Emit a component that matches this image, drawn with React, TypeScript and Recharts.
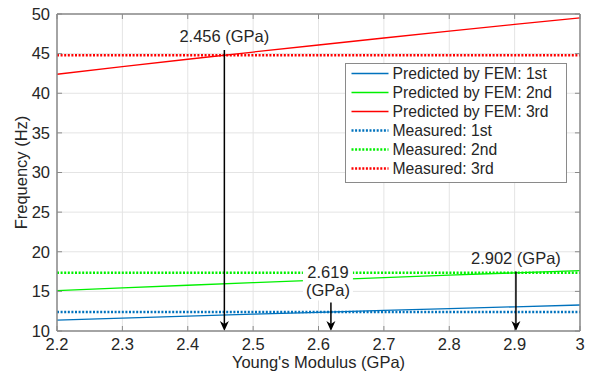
import { LineChart, Line, XAxis, YAxis, CartesianGrid, ReferenceLine, Legend } from 'recharts'

// Young's modulus samples (GPa) and the FEM natural frequencies (Hz) at each one
const modulus = [2.2, 2.3, 2.4, 2.5, 2.6, 2.7, 2.8, 2.9, 3]
const femFirst = [11.37, 11.63, 11.88, 12.12, 12.36, 12.6, 12.83, 13.05, 13.28]
const femSecond = [15.1, 15.44, 15.77, 16.1, 16.42, 16.73, 17.04, 17.34, 17.63]
const femThird = [42.4, 43.35, 44.29, 45.2, 46.09, 46.97, 47.83, 48.68, 49.51]

// measured frequencies (Hz)
const measuredFirst = 12.4
const measuredSecond = 17.35
const measuredThird = 44.8

const xTicks = [2.2, 2.3, 2.4, 2.5, 2.6, 2.7, 2.8, 2.9, 3]
const yTicks = [10, 15, 20, 25, 30, 35, 40, 45, 50]

// where each measured frequency meets its FEM curve
const crossingModulus = [2.456, 2.619, 2.902]
const crossingStart = [45.45, 13.6, 17.5]
const crossingText = [['2.456 (GPa)'], ['2.619', '(GPa)'], ['2.902 (GPa)']]

const BLUE = '#0072BD'
const GREEN = '#00F000'
const RED = '#FF0000'
const FRAME = '#8a8a8a'
const TEXT = '#262626'
const FONT = "'Liberation Sans', Arial, Helvetica, sans-serif"
const FS = 16.5

const series = [
  { key: 'fem1', name: 'Predicted by FEM: 1st', color: BLUE, dotted: false },
  { key: 'fem2', name: 'Predicted by FEM: 2nd', color: GREEN, dotted: false },
  { key: 'fem3', name: 'Predicted by FEM: 3rd', color: RED, dotted: false },
  { key: 'meas1', name: 'Measured: 1st', color: BLUE, dotted: true },
  { key: 'meas2', name: 'Measured: 2nd', color: GREEN, dotted: true },
  { key: 'meas3', name: 'Measured: 3rd', color: RED, dotted: true },
]

const data = modulus.map((m, i) => ({
  modulus: m,
  fem1: femFirst[i],
  fem2: femSecond[i],
  fem3: femThird[i],
  meas1: measuredFirst,
  meas2: measuredSecond,
  meas3: measuredThird,
}))

// inward tick length in data units (about 5px each way)
const TICK_F = 0.63
const TICK_E = 0.0077

function CrossingArrow(props: any) {
  const { x1, y1, x2, y2, lines, shift } = props
  const x = x1
  const top = Math.min(y1, y2)
  const tip = Math.max(y1, y2)
  const head = 10
  const half = 4.5
  const tx = x + shift
  return (
    <g>
      {lines.length > 1 && (
        <rect x={x - 28} y={top - 42} width={50} height={40} fill="#fff" />
      )}
      <line x1={x} x2={x} y1={top} y2={tip - head + 3} stroke="#000" strokeWidth={1.5} />
      <path
        d={`M${x},${tip} L${x - half},${tip - head} L${x},${tip - head + 3} L${x + half},${tip - head} Z`}
        fill="#000"
      />
      {lines.length > 1 ? (
        <g fontSize={FS} fontFamily={FONT} fill={TEXT} textAnchor="middle">
          <text x={tx} y={top - 24.5}>{lines[0]}</text>
          <text x={tx} y={top - 6.5}>{lines[1]}</text>
        </g>
      ) : (
        <text x={tx} y={top - 8} textAnchor="middle" fontSize={FS} fontFamily={FONT} fill={TEXT}>
          {lines[0]}
        </text>
      )}
    </g>
  )
}

function LegendBox() {
  return (
    <div
      style={{
        background: '#fff',
        border: `1.5px solid ${FRAME}`,
        height: 120,
        boxSizing: 'border-box',
        fontFamily: FONT,
      }}
    >
      {series.map((s) => (
        <div key={s.key} style={{ display: 'flex', alignItems: 'center', height: 19 }}>
          <svg width={46.5} height={19} style={{ flex: 'none' }}>
            <line
              x1={5.5}
              x2={42.5}
              y1={9.5}
              y2={9.5}
              stroke={s.color}
              strokeWidth={s.dotted ? 2.4 : 1.6}
              strokeDasharray={s.dotted ? '2 1.6' : undefined}
            />
          </svg>
          <span style={{ fontSize: 15.7, color: TEXT, lineHeight: '19px', whiteSpace: 'nowrap' }}>{s.name}</span>
        </div>
      ))}
    </div>
  )
}

export default function App() {
  return (
    <div style={{ position: 'absolute', left: 0, top: 0, width: 594, height: 372, background: '#fff' }}>
      <LineChart width={594} height={372} data={data} margin={{ top: 14, right: 14, bottom: 0, left: 0 }}>
        <CartesianGrid stroke="#e4e4e4" strokeWidth={1} />
        <XAxis
          dataKey="modulus"
          type="number"
          domain={[2.2, 3]}
          ticks={xTicks}
          interval={0}
          height={41}
          tickLine={false}
          tickSize={0}
          tickMargin={7}
          axisLine={{ stroke: FRAME, strokeWidth: 1.5 }}
          tick={{ fill: TEXT, fontSize: FS, fontFamily: FONT }}
          label={{ value: "Young's Modulus (GPa)", position: 'center', dy: 10.5, fill: TEXT, fontSize: FS, fontFamily: FONT }}
        />
        <YAxis
          type="number"
          domain={[10, 50]}
          ticks={yTicks}
          interval={0}
          width={57}
          tickLine={false}
          tickSize={0}
          tickMargin={7}
          axisLine={{ stroke: FRAME, strokeWidth: 1.5 }}
          tick={{ fill: TEXT, fontSize: FS, fontFamily: FONT }}
          label={{ value: 'Frequency (Hz)', angle: -90, position: 'center', dx: -7, fill: TEXT, fontSize: FS, fontFamily: FONT }}
        />
        {series.map((s) => (
          <Line
            key={s.key}
            dataKey={s.key}
            name={s.name}
            type="linear"
            stroke={s.color}
            strokeWidth={s.dotted ? 2.4 : 1.3}
            strokeDasharray={s.dotted ? '2 1.6' : undefined}
            dot={false}
            activeDot={false}
            isAnimationActive={false}
          />
        ))}
        <ReferenceLine y={50} stroke={FRAME} strokeWidth={1.5} />
        <ReferenceLine x={3} stroke={FRAME} strokeWidth={1.5} />
        {xTicks.map((t) => (
          <ReferenceLine key={`b${t}`} segment={[{ x: t, y: 10 }, { x: t, y: 10 + TICK_F }]} stroke={FRAME} strokeWidth={1} />
        ))}
        {xTicks.map((t) => (
          <ReferenceLine key={`t${t}`} segment={[{ x: t, y: 50 }, { x: t, y: 50 - TICK_F }]} stroke={FRAME} strokeWidth={1} />
        ))}
        {yTicks.map((t) => (
          <ReferenceLine key={`l${t}`} segment={[{ x: 2.2, y: t }, { x: 2.2 + TICK_E, y: t }]} stroke={FRAME} strokeWidth={1} />
        ))}
        {yTicks.map((t) => (
          <ReferenceLine key={`r${t}`} segment={[{ x: 3, y: t }, { x: 3 - TICK_E, y: t }]} stroke={FRAME} strokeWidth={1} />
        ))}
        {crossingModulus.map((m, i) => (
          <ReferenceLine
            key={`c${m}`}
            segment={[{ x: m, y: crossingStart[i] }, { x: m, y: 10 }]}
            ifOverflow="visible"
            shape={(p: any) => <CrossingArrow {...p} lines={crossingText[i]} shift={i === 1 ? -3 : 0} />}
          />
        ))}
        <Legend
          layout="vertical"
          align="center"
          verticalAlign="middle"
          wrapperStyle={{ left: 345, top: 63, width: 222 }}
          content={() => <LegendBox />}
        />
      </LineChart>
    </div>
  )
}
